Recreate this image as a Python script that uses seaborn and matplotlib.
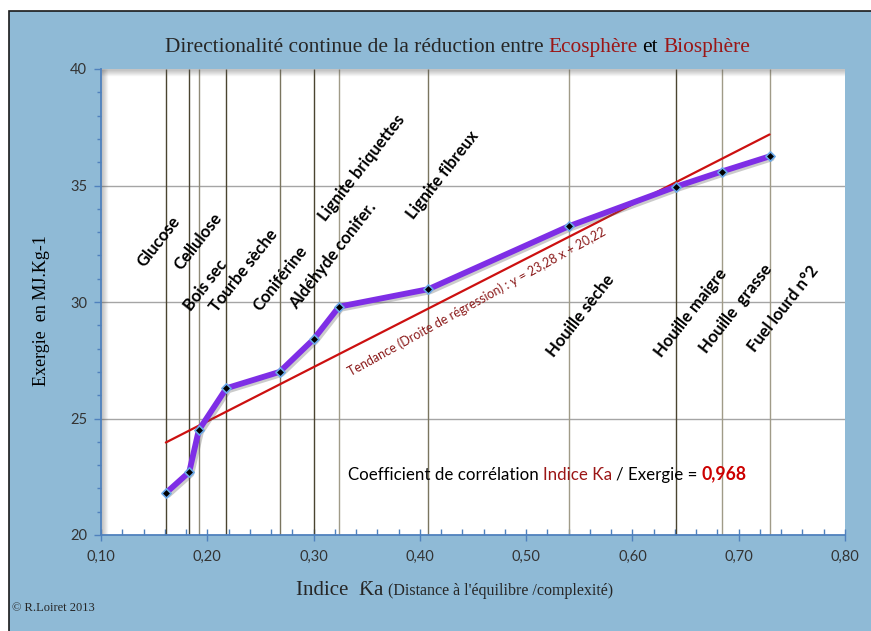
import matplotlib
matplotlib.use("Agg")
import matplotlib.pyplot as plt
import matplotlib.patheffects as pe
from matplotlib.patches import Rectangle
from matplotlib.ticker import MultipleLocator
import seaborn as sns
import pandas as pd

# data
materials = ['Glucose', 'Cellulose', 'Bois sec', 'Tourbe sèche', 'Coniférine',
             'Aldéhyde conifer.', 'Lignite briquettes', 'Lignite fibreux',
             'Houille sèche', 'Houille maigre', 'Houille  grasse', 'Fuel lourd n°2']
indice_ka = [0.161, 0.183, 0.192, 0.218, 0.268, 0.300, 0.324, 0.408,
             0.540, 0.641, 0.684, 0.729]
exergie = [21.8, 22.7, 24.5, 26.3, 27.0, 28.4, 29.8, 30.55,
           33.25, 34.95, 35.6, 36.25]
# regression line end points (y = 23,28 x + 20,22)
trend_x = [0.161, 0.729]
trend_y = [23.97, 37.19]
xticks = [0.1, 0.2, 0.3, 0.4, 0.5, 0.6, 0.7, 0.8]
xtick_labels = ['0,10', '0,20', '0,30', '0,40', '0,50', '0,60', '0,70', '0,80']
yticks = [20, 25, 30, 35, 40]
ytick_labels = ['20', '25', '30', '35', '40']
correlation = '0,968'

df = pd.DataFrame({'materiau': materials, 'ka': indice_ka, 'exergie': exergie})

# label centres (x, y) in data units
label_pos = [(0.154, 32.6), (0.191, 32.6), (0.198, 30.7), (0.2345, 31.35), (0.269, 31.0),
             (0.318, 32.0), (0.345, 35.75), (0.421, 35.45), (0.5515, 29.4),
             (0.655, 29.55), (0.697, 29.7), (0.742, 29.7)]
vline_colors = ['#4a4430', '#4a4430', '#8f8a78', '#4a4430', '#7a755f', '#4a4430',
                '#a09b88', '#7a755f', '#a09b88', '#4a4430', '#a09b88', '#a09b88']

sns.set_style('white')
plt.rcParams['font.family'] = ['Lato', 'DejaVu Sans']
serif = ['Liberation Serif', 'DejaVu Serif']

BLUE_BG = '#8fbad6'
DARKRED = '#9b1616'
fig = plt.figure(figsize=(8.71, 6.31), dpi=100, facecolor='white')
bg = Rectangle((9 / 871, -0.05), 1.05, 1.05 - 11 / 631, transform=fig.transFigure,
               facecolor=BLUE_BG, edgecolor='#1a1a1a', linewidth=1.2, zorder=-10)
fig.patches.append(bg)
ax = fig.add_axes([101 / 871, 1 - 535 / 631, 744 / 871, 466 / 631])
ax.set_zorder(5)
ax.set_facecolor('white')

ax.set_xlim(0.1, 0.8)
ax.set_ylim(20, 40)

# horizontal grid
for yv in yticks[1:-1]:
    ax.axhline(yv, color='#a5a5a5', lw=1.0, zorder=1)
# vertical lines at each material
ax.vlines(df['ka'], 20, 40, colors=vline_colors, lw=1.0, zorder=1)

# inner shadow of the plot area
for i in range(7):
    a = 0.30 * (1 - i / 7)
    ax.plot([0, 1], [1 - i / 466, 1 - i / 466], transform=ax.transAxes, color='#555555',
            alpha=a, lw=1, zorder=2, solid_capstyle='butt')
    ax.plot([i / 744, i / 744], [0, 1], transform=ax.transAxes, color='#555555',
            alpha=a, lw=1, zorder=2, solid_capstyle='butt')

# regression line
ax.plot(trend_x, trend_y, color='#cc1010', lw=1.6, zorder=3)

# purple curve
sns.lineplot(data=df, x='ka', y='exergie', ax=ax, color='#7e2ee6', lw=4.2, zorder=4,
             sort=False,
             path_effects=[pe.SimpleLineShadow(offset=(1.5, -1.5), shadow_color='#555555', alpha=0.3),
                           pe.Normal()])
sns.scatterplot(data=df, x='ka', y='exergie', ax=ax, marker='D', s=22, color='black',
                edgecolor='#6aa8e8', linewidth=1.2, zorder=5)

# rotated material names
for name, (lx, ly) in zip(materials, label_pos):
    ax.text(lx, ly, name, rotation=52, rotation_mode='anchor', ha='center', va='center',
            fontsize=12, fontweight='bold', color='black', zorder=6)

# regression label
ax.text(0.4535, 30.0, 'Tendance (Droite de régression) : y = 23,28 x + 20,22', rotation=29,
        rotation_mode='anchor', ha='center', va='center', fontsize=9, color='#8b1a1a', zorder=6)


def chain(first, parts):
    prev = first
    for s, kw in parts:
        gap = kw.pop('gap', 3)
        prev = ax.annotate(s, xy=(1, 0), xycoords=prev, xytext=(gap, 0),
                           textcoords='offset points', ha='left', va='bottom',
                           annotation_clip=False, **kw)
    return prev


# correlation text
t0 = ax.text(0.3325, 22.25, 'Coefficient de corrélation', fontsize=12.2, color='black',
             ha='left', va='bottom', zorder=6)
chain(t0, [('Indice Ƙa', dict(fontsize=12.2, color=DARKRED)),
           ('/ Exergie =', dict(fontsize=12.2, color='black')),
           (correlation, dict(fontsize=12.7, color='#cc0000', fontweight='bold'))])

# axes styling
ax.set_xticks(xticks)
ax.set_xticklabels(xtick_labels)
ax.set_yticks(yticks)
ax.set_yticklabels(ytick_labels)
ax.xaxis.set_minor_locator(MultipleLocator(0.02))
ax.yaxis.set_minor_locator(MultipleLocator(1))
ax.tick_params(axis='x', which='major', direction='inout', length=9, width=1, color='#4f81bd',
               labelsize=10.5, labelcolor='#333333', pad=6, bottom=True)
ax.tick_params(axis='x', which='minor', direction='in', length=4, width=1, color='#4f81bd', bottom=True)
ax.tick_params(axis='y', which='major', direction='out', length=5, width=1, color='#4f81bd',
               labelsize=10.5, labelcolor='#333333', pad=5, left=True)
ax.tick_params(axis='y', which='minor', direction='out', length=3, width=1, color='#4f81bd', left=True)
for side in ['top', 'right']:
    ax.spines[side].set_visible(False)
for side in ['left', 'bottom']:
    ax.spines[side].set_color('#4f81bd')
    ax.spines[side].set_linewidth(1.3)
ax.set_xlabel('')
ax.set_ylabel('')

# y label
fig.text(41 / 871, 1 - 311 / 631, 'Exergie  en MJ.Kg-1', rotation=90, ha='center', va='center',
         fontsize=13, family=serif, color='black')

# title
tt = fig.text(165 / 871, 1 - 57 / 631, 'Directionalité continue de la réduction entre', fontsize=15.4,
              family=serif, ha='left', va='bottom')
prev = tt
for s, c in [('Ecosphère', DARKRED), ('et', 'black'), ('Biosphère', DARKRED)]:
    prev = ax.annotate(s, xy=(1, 0), xycoords=prev, xytext=(3.5, 0), textcoords='offset points',
                       ha='left', va='bottom', fontsize=15.4, family=serif, color=c,
                       annotation_clip=False)

# x label
xl = fig.text(296 / 871, 1 - 600 / 631, 'Indice  Ƙa', fontsize=15, family=serif, ha='left', va='bottom')
ax.annotate("(Distance à l'équilibre /complexité)", xy=(1, 0), xycoords=xl, xytext=(3, 1),
            textcoords='offset points', ha='left', va='bottom', fontsize=11.5, family=serif,
            annotation_clip=False)

# copyright
fig.text(12 / 871, 1 - 608 / 631, '© R.Loiret 2013', fontsize=9, family=serif, ha='left', va='center')

fig.savefig('out.png', dpi=100, facecolor='white')
